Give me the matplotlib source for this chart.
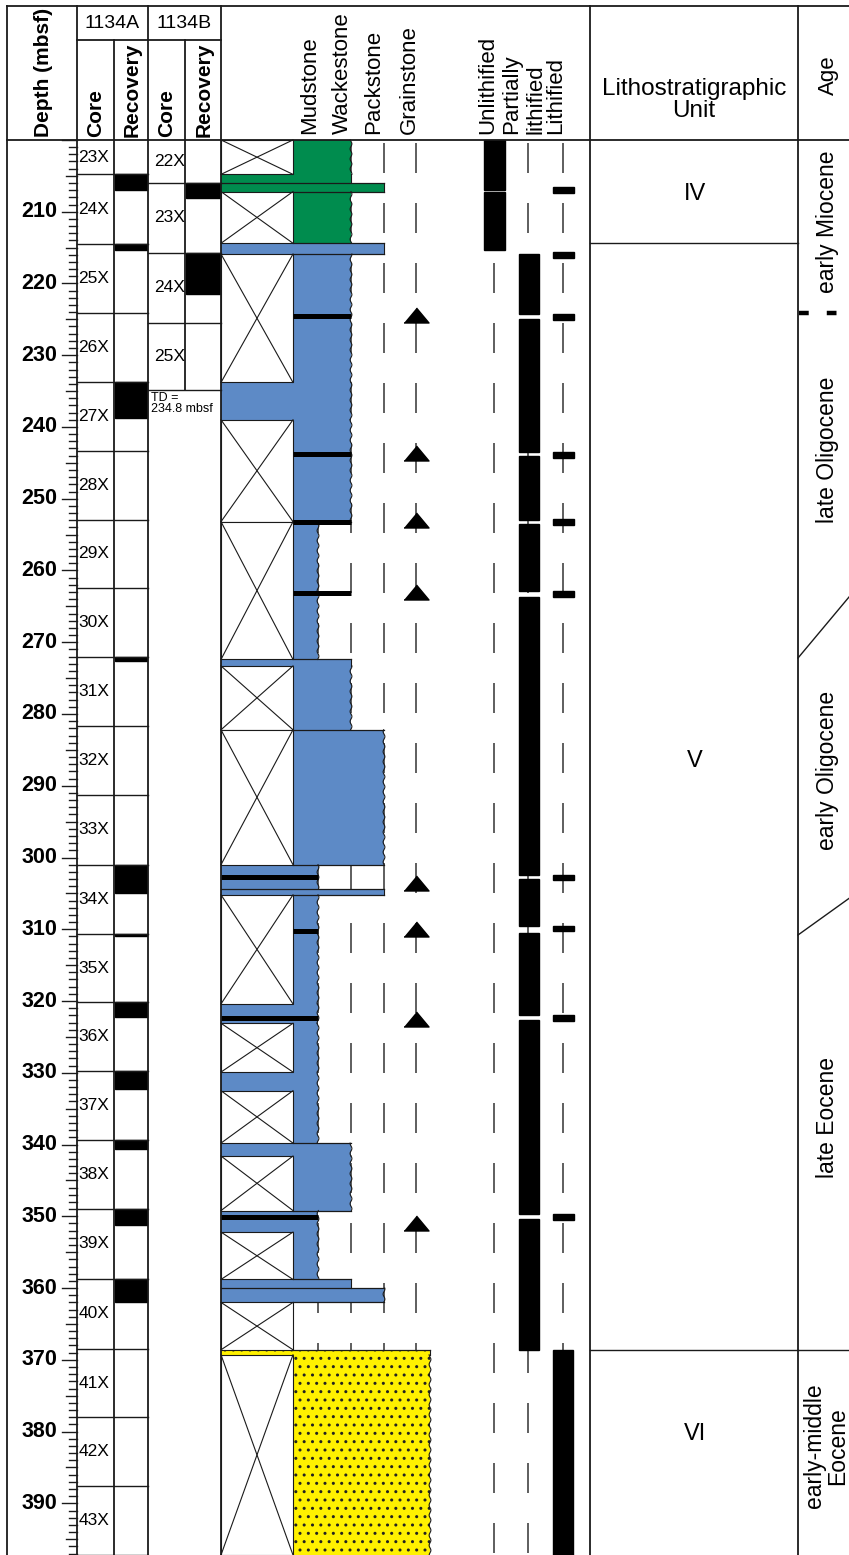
import numpy as np
import matplotlib.pyplot as plt
from matplotlib.patches import Rectangle

plt.rcParams['font.family'] = ['Liberation Sans', 'DejaVu Sans']
plt.rcParams['lines.scale_dashes'] = False
plt.rcParams['hatch.linewidth'] = 1.0

# ---------------- data (depths in mbsf) ----------------
depth_top = 180.5          # depth at the very top of the image
depth_bot = 397.2          # depth at the bottom of the image
data_top = 200.0
depth_labels = list(range(210, 391, 10))

# Hole 1134A cores
core_a_names = ['23X', '24X', '25X', '26X', '27X', '28X', '29X', '30X', '31X', '32X', '33X',
                '34X', '35X', '36X', '37X', '38X', '39X', '40X', '41X', '42X', '43X']
core_a_top = [195.2, 204.8, 214.5, 224.1, 233.7, 243.3, 252.9, 262.5, 272.1, 281.7, 291.3,
              301.0, 310.6, 320.2, 329.8, 339.4, 349.0, 358.7, 368.5, 378.0, 387.6]
core_a_bot = core_a_top[1:] + [397.2]
rec_a_top = [204.8, 214.5, 233.8, 272.1, 301.0, 310.6, 320.2, 329.8, 339.4, 349.0, 358.7]
rec_a_bot = [207.0, 215.3, 238.7, 272.6, 305.0, 310.9, 322.2, 332.3, 340.6, 351.2, 361.9]

# Hole 1134B cores
core_b_names = ['22X', '23X', '24X', '25X']
core_b_top = [196.3, 206.0, 215.7, 225.5]
core_b_bot = [206.0, 215.7, 225.5, 234.9]
rec_b_top = [206.0, 215.7]
rec_b_bot = [208.1, 221.5]

# lithology / texture intervals
lith_top = [200.0, 204.8, 206.0, 207.2, 214.4, 215.9, 233.8, 239.0, 253.2, 272.4, 273.3, 282.2, 301.0, 304.4,
            305.2, 320.4, 323.1, 329.9, 332.5, 339.8, 341.6, 349.2, 352.2, 358.8, 360.0, 362.0, 368.6, 369.3]
lith_bot = lith_top[1:] + [depth_bot]
lith_texture = ['wacke', 'wacke', 'pack', 'wacke', 'pack', 'wacke', 'wacke', 'wacke', 'mud', 'wacke',
                'wacke', 'pack', 'mud', 'pack', 'mud', 'mud', 'mud', 'mud', 'mud', 'wacke', 'wacke',
                'mud', 'mud', 'wacke', 'pack', 'none', 'sand', 'sand']
lith_color = ['green'] * 4 + ['blue'] * 21 + ['none', 'yellow', 'yellow']
lith_recovered = [0, 1, 1, 0, 1, 0, 1, 0, 0, 1, 0, 0, 1, 1, 0, 1, 0, 1, 0, 1, 0, 1, 0, 1, 1, 0, 1, 0]

# hardgrounds
hg_depth = [224.5, 243.7, 253.2, 263.1, 302.7, 310.2, 322.3, 350.1]
hg_texture = ['wacke', 'wacke', 'wacke', 'wacke', 'mud', 'mud', 'mud', 'mud']
# grainstone triangles
tri_depth = [224.4, 243.6, 253.0, 263.0, 303.6, 310.0, 322.5, 350.9]

# lithification
unlith_top = [200.0, 207.2]
unlith_bot = [206.95, 215.4]
partial_top = [215.9, 225.0, 244.1, 253.5, 263.7, 303.0, 310.5, 322.7, 350.4]
partial_bot = [224.3, 243.5, 252.9, 262.9, 302.4, 309.5, 322.0, 349.7, 368.6]
lith_mark = [207.0, 216.0, 224.7, 243.9, 253.2, 263.3, 302.8, 309.9, 322.4, 350.1]
lith_full_top, lith_full_bot = 368.6, depth_bot

# units and ages
unit_names = ['IV', 'V', 'VI']
unit_bounds = [214.3, 368.6]
unit_label_depth = [207.6, 286.6, 380.3]
age_names = ['early Miocene', 'late Oligocene', 'early Oligocene', 'late Eocene', 'early-middle\nEocene']
age_label_depth = [211.4, 243.2, 287.9, 336.2, 382.0]
age_bound_left = [224.1, 272.2, 310.8, 368.6]
age_bound_right = [224.1, 263.7, 305.7, 368.6]
age_bound_dashed = [True, False, False, False]

# ---------------- layout (x in pixels) ----------------
X_LEFT, X_DEPTH, X_RECA, X_COREB, X_RECB, X_LITH = 7, 77, 114, 148, 185, 221
X_XBOX = 293
tex_x = {'none': 293, 'mud': 318, 'wacke': 351, 'pack': 384, 'grain': 416, 'sand': 430}
guide_x = [318, 351, 384, 416, 494, 528, 563]
X_UNIT, X_AGE, X_RIGHT = 590, 798, 849
fill_colors = {'green': '#008C4E', 'blue': '#5D8AC6', 'yellow': '#FFF100'}
LC = '#1a1a1a'


def py(p):
    # pixel row -> depth coordinate (for header layout)
    return depth_top + p / 7.175


fig = plt.figure(figsize=(8.49, 15.55), dpi=100)
ax = fig.add_axes([0, 0, 1, 1])
ax.set_xlim(0, 849)
ax.set_ylim(depth_bot, depth_top)
ax.axis('off')

# dashed guide lines
for gx in guide_x:
    ax.plot([gx, gx], [py(143), depth_bot], color='#333333', lw=1.1, dashes=(21.6, 21.6), zorder=1)

# lithology fills
for t, b, tex, col, rec in zip(lith_top, lith_bot, lith_texture, lith_color, lith_recovered):
    if tex != 'none':
        left = X_LITH if rec else X_XBOX
        kw = dict(facecolor=fill_colors[col], lw=0, zorder=2)
        if col == 'yellow':
            kw.update(edgecolor='#222222', hatch='..')
        else:
            kw.update(edgecolor='none')
        ax.add_patch(Rectangle((left, t), tex_x[tex] - left, b - t, **kw))
        # right edge
        if b - t > 1.5:
            ys = np.linspace(t, b, int((b - t) * 8))
            xs = tex_x[tex] + 0.9 * np.sin(ys * 2 * np.pi / 1.4)
        else:
            ys, xs = [t, b], [tex_x[tex]] * 2
        ax.plot(xs, ys, color=LC, lw=0.8, zorder=4)
    if not rec:
        ax.add_patch(Rectangle((X_LITH, t), X_XBOX - X_LITH, b - t, facecolor='white',
                               edgecolor=LC, lw=0.8, zorder=3))
        ax.plot([X_LITH, X_XBOX], [t, b], color=LC, lw=0.8, zorder=3)
        ax.plot([X_LITH, X_XBOX], [b, t], color=LC, lw=0.8, zorder=3)

for i in range(len(lith_top) - 1):
    if lith_texture[i] != lith_texture[i + 1] or lith_color[i] != lith_color[i + 1]:
        left = X_LITH if (lith_recovered[i] and lith_recovered[i + 1]) else X_XBOX
        right = max(tex_x[lith_texture[i]], tex_x[lith_texture[i + 1]])
        ax.plot([left, right], [lith_bot[i]] * 2, color=LC, lw=0.9, zorder=4)

# hardgrounds
for d, tex in zip(hg_depth, hg_texture):
    rec = [r for t, b, r in zip(lith_top, lith_bot, lith_recovered) if t <= d < b][0]
    left = X_LITH if rec else X_XBOX
    ax.plot([left, tex_x[tex]], [d, d], color='black', lw=3.6, solid_capstyle='butt', zorder=5)

# grainstone triangles
tri = [(-1, -0.6), (1, -0.6), (0, 0.6)]
ax.plot([tex_x['grain']] * len(tri_depth), tri_depth, linestyle='none', marker=tri, ms=18,
        color='black', zorder=5)

# lithification bars
for t, b in zip(unlith_top, unlith_bot):
    ax.add_patch(Rectangle((484, t), 21, b - t, color='black', zorder=3))
for t, b in zip(partial_top, partial_bot):
    ax.add_patch(Rectangle((519, t), 20, b - t, color='black', zorder=3))
for d in lith_mark:
    ax.add_patch(Rectangle((553, d - 0.4), 21, 0.8, color='black', zorder=3))
ax.add_patch(Rectangle((553, lith_full_top), 20, lith_full_bot - lith_full_top, color='black', zorder=3))

# cores and recovery
for name, t, b in zip(core_a_names, core_a_top, core_a_bot):
    ax.plot([X_DEPTH, X_COREB], [b, b], color=LC, lw=1.0, zorder=6)
    ax.text(78.5, (max(t, data_top) + min(b, depth_bot)) / 2, name, ha='left', va='center',
            fontsize=12.5, zorder=7)
for t, b in zip(rec_a_top, rec_a_bot):
    ax.add_patch(Rectangle((X_RECA + 1, t), X_COREB - X_RECA - 2, b - t, color='black', zorder=5))
for name, t, b in zip(core_b_names, core_b_top, core_b_bot):
    ax.plot([X_COREB, X_LITH], [b, b], color=LC, lw=1.0, zorder=6)
    ax.text(154, (max(t, data_top) + b) / 2, name, ha='left', va='center', fontsize=12.5, zorder=7)
for t, b in zip(rec_b_top, rec_b_bot):
    ax.add_patch(Rectangle((X_RECB + 1, t), X_LITH - X_RECB - 2, b - t, color='black', zorder=5))
ax.text(151, core_b_bot[-1] + 0.2, 'TD =\n234.8 mbsf', ha='left', va='top', fontsize=9,
        linespacing=0.95, zorder=7)

# depth ticks and labels
for d in range(200, 398):
    ln = 15 if d % 10 == 0 else (11 if d % 5 == 0 else 8)
    ax.plot([X_DEPTH - ln, X_DEPTH], [d, d], color=LC, lw=1.0, zorder=6)
for d in depth_labels:
    ax.text(57, d, str(d), ha='right', va='center', fontsize=15.5, fontweight='bold')

# frame
fw = dict(color=LC, lw=1.3, zorder=6)
ax.plot([X_LEFT, X_RIGHT], [py(6), py(6)], **fw)
ax.plot([X_LEFT, X_RIGHT], [data_top, data_top], **fw)
ax.plot([X_DEPTH, X_LITH], [py(40), py(40)], **fw)
for vx in [X_LEFT, X_DEPTH, X_COREB, X_LITH, X_UNIT, X_AGE]:
    ax.plot([vx, vx], [py(6), depth_bot], **fw)
ax.plot([X_RECA, X_RECA], [py(40), depth_bot], **fw)
ax.plot([X_RECB, X_RECB], [py(40), core_b_bot[-1]], **fw)

# units
for d in unit_bounds:
    ax.plot([X_UNIT, X_AGE], [d, d], color=LC, lw=1.0, zorder=6)
for name, d in zip(unit_names, unit_label_depth):
    ax.text((X_UNIT + X_AGE) / 2 + 1, d, name, ha='center', va='center', fontsize=17)

# ages
for l, r, dashed in zip(age_bound_left, age_bound_right, age_bound_dashed):
    if dashed:
        ax.plot([X_AGE + 1, X_RIGHT], [l, r], color='black', lw=3.2, dashes=(7, 13),
                solid_capstyle='butt', zorder=6)
    else:
        ax.plot([X_AGE, X_RIGHT], [l, r], color=LC, lw=1.0, zorder=6)
for name, d in zip(age_names, age_label_depth):
    ax.text(826 if '\n' in name else 828, d, name, rotation=90, ha='center', va='center',
            fontsize=16.5, linespacing=1.0, multialignment='center')

# headers
ax.text(44, py(137), 'Depth (mbsf)', rotation=90, ha='center', va='bottom', fontsize=15,
        fontweight='bold')
ax.text((X_DEPTH + X_COREB) / 2, py(23), '1134A', ha='center', va='center', fontsize=14)
ax.text((X_COREB + X_LITH) / 2, py(23), '1134B', ha='center', va='center', fontsize=14)
for hx, lab in [(95.5, 'Core'), (132, 'Recovery'), (166.5, 'Core'), (204, 'Recovery')]:
    ax.text(hx, py(137), lab, rotation=90, ha='center', va='bottom', fontsize=15, fontweight='bold')
for hx, lab in [(310, 'Mudstone'), (342, 'Wackestone'), (374, 'Packstone'), (409, 'Grainstone'),
                (487.5, 'Unlithified'), (512, 'Partially'), (536, 'lithified'), (556, 'Lithified')]:
    ax.text(hx, py(134), lab, rotation=90, ha='center', va='bottom', fontsize=16)
ax.text(694, py(100), 'Lithostratigraphic\nUnit', ha='center', va='center', fontsize=17.5,
        linespacing=1.0, multialignment='center')
ax.text(828, py(75), 'Age', rotation=90, ha='center', va='center', fontsize=16)

fig.savefig('out.png', dpi=100)
